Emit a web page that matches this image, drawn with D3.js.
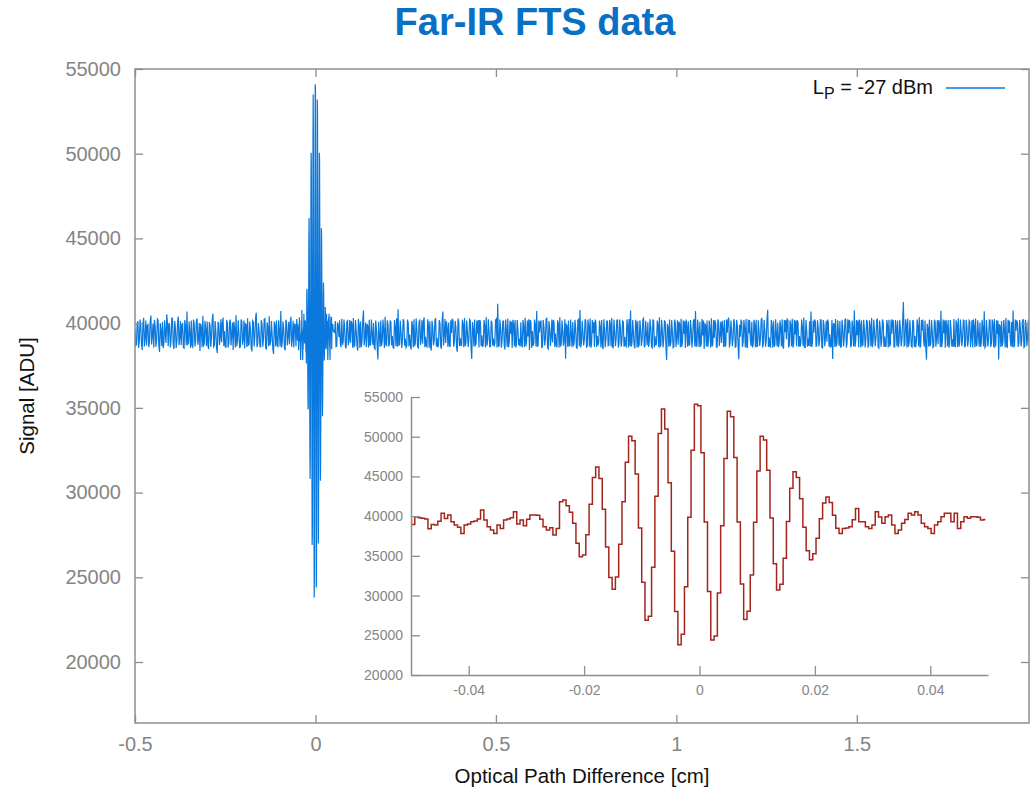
<!DOCTYPE html>
<html>
<head>
<meta charset="utf-8">
<script src="https://cdn.jsdelivr.net/npm/d3@7"></script>
<style>
  body { margin: 0; background: #fff; }
  text { font-family: "Liberation Sans", Arial, Helvetica, sans-serif; }
</style>
</head>
<body>
<svg id="chart" width="1035" height="787"></svg>
<script>
// ---- Data -----------------------------------------------------------------
// Central interferogram, sampled every ifgStep cm starting at ifgStart.
const ifgStart = -0.0502;
const ifgStep = 0.00057;
const ifgSignal = [
  39500, 38960, 39930, 39800, 39750, 39640, 38400, 38950, 38900, 39350,
  40350, 39700, 40150, 39300, 38900, 38600, 37830, 38900, 39000, 39300,
  39400, 39650, 40770, 39500, 38670, 38250, 37830, 38900, 38460, 39500,
  39650, 39800, 40560, 39000, 39510, 38800, 39600, 40140, 40140, 40100,
  39600, 38670, 38250, 38530, 37620, 38460, 41820, 42030, 41300, 40500,
  39100, 36600, 34900, 35100, 37650, 41490, 44870, 46200, 44730, 40880,
  36120, 32270, 30800, 32330, 36450, 41820, 46770, 50050, 49500, 45320,
  38500, 31680, 26900, 27400, 33550, 42510, 50390, 53500, 50960, 44200,
  35580, 28000, 23800, 25130, 31120, 39860, 48310, 54100, 53900, 47980,
  39250, 30520, 24400, 24900, 30330, 38800, 47270, 53200, 52510, 47380,
  39250, 31470, 27000, 28020, 32580, 39240, 45690, 50050, 49590, 45790,
  39770, 34010, 30700, 31440, 34710, 39340, 43500, 45600, 44860, 42180,
  38610, 35650, 34500, 35250, 37230, 39670, 41650, 42400, 41730, 40100,
  38470, 37800, 38460, 38500, 38670, 39550, 40950, 39300, 39300, 38670,
  38460, 38880, 40560, 39900, 39090, 39930, 40140, 38880, 37830, 38250,
  39090, 39590, 40350, 40140, 40560, 40140, 39090, 38670, 38460, 37830,
  38880, 39300, 39930, 40350, 40350, 39300, 40350, 38460, 39300, 39930,
  39720, 39930, 39930, 39850, 39510, 39590
];

// Background noise on either side of the burst. Each side is sampled every
// noiseStep cm on two interleaved grids (the second offset by half a step).
const noiseStep = 0.004;
const noiseLeftStart = -0.5;
const noiseLeft = [
  39650, 38720, 40110, 38950, 39880, 38410, 40320, 39100, 38680, 39920,
  38870, 40450, 39230, 38560, 39760, 38990, 40180, 38300, 39540, 40060,
  38790, 39410, 40520, 38640, 39850, 39020, 40240, 38480, 39690, 38910,
  40390, 39160, 38710, 40010, 38520, 39800, 40680, 38830, 39350, 40150,
  38600, 39970, 38940, 40270, 39060, 38350, 39730, 40430, 38760, 39580,
  40090, 38470, 39840, 39200, 40560, 38690, 39460, 38230, 40020, 39120,
  38880, 40330, 39530, 38580, 39990, 38820, 40210, 39280, 38420, 39700,
  40470, 38960, 39390, 38650, 40120, 39040, 38510, 39910, 40290, 38730,
  39620, 38330, 40060, 39170, 40620, 38800, 39480, 38570, 39950, 39080,
  40260, 38440, 39740, 40410, 38900, 39300, 38180, 39860, 40150, 38620,
  39510, 40720, 38850, 39640, 38400, 40030, 39210, 38740, 40380, 39050,
  38560, 39870, 40240
];
const noiseLeftMidStart = -0.498;
const noiseLeftMid = [
  38690, 39980, 38540, 40210, 38760, 39940, 38620, 40150, 39870, 38590,
  40080, 38740, 39980, 40190, 38610, 40250, 38700, 39990, 38650, 38520,
  40170, 38830, 39960, 40010, 38570, 40330, 38690, 40120, 38540, 40060,
  38700, 40130, 39890, 38560, 40180, 38690, 38760, 40100, 38540, 38680,
  40210, 38620, 40150, 38720, 40010, 39980, 38580, 38690, 40140, 38650,
  38700, 40060, 38590, 40200, 38610, 40120, 38530, 40040, 38710, 40230,
  39970, 38650, 38600, 40190, 38570, 40080, 38690, 40040, 40100, 38560,
  38640, 40170, 38530, 40210, 38720, 40150, 39960, 38600, 38700, 40090,
  38540, 40140, 38620, 40270, 38590, 40010, 38660, 40180, 38610, 40230,
  38570, 40050, 38640, 38680, 40130, 38450, 40090, 38620, 38690, 40170,
  38620, 38570, 40110, 38550, 40200, 38690, 40080, 39990, 38610, 40140,
  39980, 38640
];
const noiseRightStart = 0.053;
const noiseRight = [
  39420, 38610, 40050, 39180, 38790, 40260, 38950, 39700, 38520, 40140,
  39030, 38840, 39960, 40310, 38690, 39520, 38370, 39880, 40090, 38920,
  40740, 39150, 38580, 39810, 40200, 38760, 39350, 40010, 38470, 39640,
  37850, 39290, 40160, 38900, 39570, 40380, 38640, 39930, 38810, 40070,
  39240, 38530, 39780, 40290, 40820, 38720, 39460, 38980, 40120, 39090,
  38650, 40000, 39330, 38430, 39850, 40230, 38870, 39610, 38540, 40170,
  39060, 38790, 40340, 39200, 38610, 39900, 40110, 38380, 39720, 38960,
  40250, 39140, 38700, 39990, 38490, 40690, 39250, 38830, 39680, 40030,
  38590, 39410, 40180, 38920, 39760, 38310, 40070, 39120, 38680, 39950,
  40300, 38850, 39530, 39020, 40140, 37880, 39670, 40210, 38770, 39380,
  38560, 40090, 39290, 38730, 39840, 40360, 38950, 39470, 38620, 40020,
  39110, 38800, 40240, 41150, 38660, 39730, 39010, 40130, 38450, 39560,
  40270, 38890, 39370, 38540, 39960, 40190, 38740, 39620, 39080, 40050,
  38630, 39800, 40320, 38960, 39220, 38410, 40080, 39540, 38820, 39900,
  40710, 38700, 39450, 40160, 38590, 39750, 39050, 40280, 38480, 39680,
  39170, 38860, 40040, 39390, 38570, 39930, 40350, 38780, 39590, 38990,
  37900, 39840, 40150, 38680, 39310, 40060, 38910, 39700, 38520, 40220,
  40780, 38830, 39490, 39020, 40110, 38640, 39860, 40270, 38750, 39400,
  38600, 40030, 39260, 38880, 39790, 40190, 38460, 39650, 39100, 40120,
  38710, 39940, 40300, 38560, 39530, 39080, 40180, 38790, 39720, 38940,
  40070, 39190, 38620, 39880, 40240, 40750, 38850, 39420, 38510, 39990,
  40130, 38760, 39600, 39010, 40280, 38670, 39340, 40050, 38900, 39770,
  38550, 40170, 39230, 38810, 39910, 40340, 38690, 39560, 39060, 40100,
  37820, 39740, 40210, 38870, 39480, 38600, 40020, 39150, 38720, 39960,
  40260, 38930, 39380, 38540, 39820, 40110, 38780, 39660, 39040, 40230,
  40720, 38650, 39510, 40080, 38820, 39270, 38470, 39890, 40150, 38960,
  39610, 40290, 38740, 39120, 39980, 38580, 40060, 39320, 38830, 39710,
  40190, 38700, 39440, 40320, 38910, 39580, 39070, 40040, 38610, 39850,
  37870, 39200, 40120, 38860, 39690, 40250, 38530, 39400, 39010, 40080,
  38760, 39930, 40200, 38640, 39520, 39110, 40310, 38800, 39620, 38990,
  40790, 39160, 38590, 39840, 40140, 38720, 39360, 40020, 38880, 39750,
  40230, 38500, 39470, 39050, 40170, 38690, 39900, 40260, 38780, 39330,
  38630, 40040, 39240, 38850, 39800, 40330, 38570, 39590, 39090, 40110,
  40680, 38820, 39430, 40090, 38700, 39710, 39020, 40190, 38540, 39870,
  39180, 38910, 40050, 39350, 38660, 37890, 39960, 40240, 38790, 39500,
  40120, 38610, 39740, 39070, 40280, 38840, 39390, 40010, 38720, 39650,
  40760, 38950, 39280, 38580, 39920, 40170, 38730, 39610, 39030, 40080,
  38680, 39830, 40310, 38890, 39460, 39120, 40230, 38520, 39700, 38970,
  40060, 39210, 38640, 39890, 40200, 38780, 39370, 40130, 38600, 39760,
  40160, 38870, 39550, 39060, 41250, 38710, 39940, 40280, 38830, 39420,
  38590, 40100, 39250, 38920, 39810, 40340, 38660, 39570, 39000, 40150,
  37840, 39720, 40220, 38800, 39490, 38630, 40070, 39140, 38750, 39980,
  40730, 38900, 39400, 38550, 39860, 40190, 38770, 39640, 39050, 40240,
  38620, 39910, 40290, 38850, 39530, 39100, 40160, 38690, 39780, 38980,
  40090, 39170, 38570, 39850, 40270, 38740, 39310, 40040, 38880, 39690,
  40700, 38650, 39460, 39030, 40180, 38820, 39950, 40250, 38710, 39360,
  37860, 39790, 40130, 38930, 39600, 40310, 38580, 39420, 39080, 40060,
  40750, 38690, 39550, 40020, 38840, 39730, 39010, 40200, 38610, 39880,
  39140, 38790, 40030
];
const noiseRightMidStart = 0.055;
const noiseRightMid = [
  40120, 38640, 39900, 40170, 38580, 38720, 40210, 38610, 40080, 38700,
  40190, 40130, 38560, 38620, 40180, 38690, 40240, 38530, 38600, 40150,
  38680, 40030, 39950, 38570, 38660, 40220, 38710, 38520, 40160, 38630,
  40080, 38590, 38650, 40210, 38540, 38730, 40170, 38620, 40120, 38680,
  38570, 40190, 38640, 38610, 38700, 40150, 38530, 40240, 38670, 38560,
  40210, 38620, 38690, 40130, 38560, 38640, 40270, 38590, 40100, 38710,
  40180, 40060, 38580, 38670, 40230, 38550, 38600, 40140, 38690, 40200,
  38620, 38570, 40180, 38640, 40120, 38680, 40250, 40110, 38590, 38700,
  40170, 40220, 38610, 40130, 38560, 40270, 38640, 38690, 40200, 38580,
  38650, 40160, 38600, 40210, 38570, 40060, 38630, 38700, 40150, 40190,
  40190, 38640, 38590, 40180, 38560, 38660, 40230, 38610, 40140, 38680,
  38620, 40170, 38570, 38640, 40210, 38550, 40120, 38690, 40220, 38600,
  38580, 40150, 40100, 40200, 38630, 38560, 40180, 38700, 38610, 38690,
  40180, 38590, 38640, 40160, 40230, 40190, 38540, 38660, 40210, 38620,
  38600, 40150, 40070, 38570, 40190, 38680, 40240, 38540, 40120, 38650,
  40210, 40190, 38600, 38690, 40170, 38560, 38620, 40150, 38670, 40230,
  39920, 38610, 38660, 40220, 38580, 38640, 40190, 38550, 40170, 38630,
  38570, 40140, 38680, 40230, 38590, 40210, 38620, 38550, 40180, 40060,
  40210, 38600, 38690, 40150, 38570, 38650, 40230, 38580, 40120, 38670,
  40190, 38620, 38590, 40200, 38640, 40170, 38560, 40210, 38610, 40130,
  38600, 38690, 40220, 38570, 38640, 38620, 40180, 38680, 40200, 38560,
  38590, 40170, 38650, 40210, 38580, 40140, 38690, 38600, 40230, 38620,
  40180, 38560, 38680, 40150, 38590, 38620, 40200, 38570, 40130, 38650,
  39960, 38610, 38640, 40190, 38550, 40210, 38600, 40170, 40080, 38580,
  38590, 40170, 40110, 40210, 38610, 38660, 40190, 38560, 40140, 38620,
  38640, 40200, 38580, 38610, 40240, 40160, 39950, 38620, 38600, 40150,
  38570, 38630, 40190, 40170, 38580, 40220, 38650, 40080, 40140, 38600,
  38610, 40210, 40190, 38570, 40160, 38640, 40230, 38580, 40190, 38620,
  39910, 40170, 38600, 40180, 38560, 38620, 40210, 40180, 38640, 38570,
  40200, 38580, 38620, 40170, 38650, 40210, 38560, 40190, 38610, 40220,
  38590, 38640, 40180, 38560, 38610, 40230, 38620, 38580, 40160, 38640,
  38600, 40180, 40190, 40230, 38570, 40160, 38630, 38560, 40200, 40150,
  40170, 38590, 38620, 40210, 38640, 38580, 40190, 38610, 38650, 38620,
  38590, 40160, 40220, 38600, 40170, 38630, 40200, 38570, 40180, 38640,
  40140, 40210, 38610, 38570, 40190, 39950, 38600, 38620, 40170, 38650,
  38590, 40200, 38630, 40180, 38560, 40230, 40190, 38580, 40160, 38620,
  38610, 40190, 40150, 40210, 38570, 38640, 40200, 38560, 40180, 38610,
  40170, 38620, 38580, 40200, 38640, 40190, 38570, 40160, 38610, 40220,
  38590, 38630, 40180, 38570, 38620, 40210, 40170, 38600, 40190, 38640,
  38580, 40200, 38620, 40180, 38660, 40230, 38570, 38610, 40170, 38640,
  40190, 38600, 38580, 40210, 38630, 38560, 40180, 40220, 38610, 38590,
  39960, 38620, 38640, 40190, 38570, 40200, 38610, 40170, 40180, 38600,
  38580, 40210, 40160, 40200, 38630, 38560, 40190, 38620, 38600, 38640,
  40170, 38590, 38610, 40210, 38640, 40180, 38570, 40200, 38620, 40160,
  38600, 40190, 40220, 38580, 38630, 40170, 38610, 38590, 40200, 38640,
  38570, 40180, 38620, 40190, 38600, 40210, 38580, 38630, 40170, 40150,
  39940, 38600, 38640, 40190, 38570, 38610, 40200, 40160, 38620, 38590,
  38580, 40210, 40170, 38600, 40190, 38630, 40180, 38570, 40200, 38640,
  40170, 38610
];

// Axis settings
const mainXDomain = [-0.5, 1.977];
const mainYDomain = [16400, 55000];
const mainXTicks = [-0.5, 0, 0.5, 1, 1.5];
const mainYTicks = [20000, 25000, 30000, 35000, 40000, 45000, 50000, 55000];
const insetXDomain = [-0.05, 0.05];
const insetYDomain = [20000, 55000];
const insetXTicks = [-0.04, -0.02, 0, 0.02, 0.04];
const insetYTicks = [20000, 25000, 30000, 35000, 40000, 45000, 50000, 55000];

const titleText = "Far-IR FTS data";
const xLabelText = "Optical Path Difference [cm]";
const yLabelText = "Signal [ADU]";

// ---- Build point series ---------------------------------------------------
const ifgPoints = ifgSignal.map((v, i) => [ifgStart + i * ifgStep, v]);
const onGrid = (arr, start) => arr.map((v, k) => [start + k * noiseStep, v]);
const mainPoints = [
  ...onGrid(noiseLeft, noiseLeftStart),
  ...onGrid(noiseLeftMid, noiseLeftMidStart),
  ...ifgPoints,
  ...onGrid(noiseRight, noiseRightStart),
  ...onGrid(noiseRightMid, noiseRightMidStart)
].sort((a, b) => a[0] - b[0]);

// ---- Layout ---------------------------------------------------------------
const svg = d3.select("#chart");
const M = { left: 135, right: 1029, top: 69, bottom: 723 };
const I = { left: 411, right: 988, top: 397, bottom: 675 };

const axisGrey = "#8e8e8e";
const labelGrey = "#858585";
const blue = "#0a78dc";
const red = "#a3261d";

// Plain hyphen for negative numbers, as printed on the axes
const plainNum = d => String(d);

const x = d3.scaleLinear().domain(mainXDomain).range([M.left, M.right]);
const y = d3.scaleLinear().domain(mainYDomain).range([M.bottom, M.top]);

// Title
svg.append("text")
  .attr("x", 535).attr("y", 35)
  .attr("text-anchor", "middle")
  .attr("font-size", 38).attr("font-weight", "bold")
  .attr("fill", "#0a70c4")
  .text(titleText);

// Clip regions
const defs = svg.append("defs");
defs.append("clipPath").attr("id", "mainClip")
  .append("rect").attr("x", M.left).attr("y", M.top)
  .attr("width", M.right - M.left).attr("height", M.bottom - M.top);
defs.append("clipPath").attr("id", "insetClip")
  .append("rect").attr("x", I.left).attr("y", I.top - 5)
  .attr("width", I.right - I.left).attr("height", I.bottom - I.top + 5);

// Main trace
svg.append("path")
  .datum(mainPoints)
  .attr("clip-path", "url(#mainClip)")
  .attr("fill", "none")
  .attr("stroke", blue)
  .attr("stroke-width", 1.2)
  .attr("d", d3.line().x(d => x(d[0])).y(d => y(d[1])));

// Main frame with inward mirrored ticks
const tickLen = 8;
const gMain = svg.append("g");
gMain.append("g").attr("transform", `translate(0,${M.bottom})`)
  .call(d3.axisBottom(x).tickValues(mainXTicks).tickSizeInner(-tickLen).tickSizeOuter(0).tickPadding(14)
    .tickFormat(plainNum));
gMain.append("g").attr("transform", `translate(0,${M.top})`)
  .call(d3.axisTop(x).tickValues(mainXTicks).tickSizeInner(-tickLen).tickSizeOuter(0).tickFormat(""));
gMain.append("g").attr("transform", `translate(${M.left},0)`)
  .call(d3.axisLeft(y).tickValues(mainYTicks).tickSizeInner(-tickLen).tickSizeOuter(0).tickPadding(14)
    .tickFormat(plainNum));
gMain.append("g").attr("transform", `translate(${M.right},0)`)
  .call(d3.axisRight(y).tickValues(mainYTicks).tickSizeInner(-tickLen).tickSizeOuter(0).tickFormat(""));
gMain.selectAll(".domain").remove();
gMain.selectAll(".tick line").attr("stroke", axisGrey).attr("stroke-width", 1.3);
gMain.selectAll(".tick text").attr("fill", labelGrey).attr("font-size", 20)
  .attr("font-family", "'Liberation Sans', Arial, sans-serif");
gMain.append("rect")
  .attr("x", M.left).attr("y", M.top)
  .attr("width", M.right - M.left).attr("height", M.bottom - M.top)
  .attr("fill", "none").attr("stroke", axisGrey).attr("stroke-width", 1.5);

// Axis titles
svg.append("text")
  .attr("x", (M.left + M.right) / 2).attr("y", 783)
  .attr("text-anchor", "middle").attr("font-size", 20.5).attr("fill", "#111")
  .text(xLabelText);
svg.append("text")
  .attr("transform", `translate(34,${(M.top + M.bottom) / 2}) rotate(-90)`)
  .attr("text-anchor", "middle").attr("font-size", 20.5).attr("fill", "#111")
  .text(yLabelText);

// Legend
const legend = svg.append("g");
const legText = legend.append("text")
  .attr("x", 933).attr("y", 94)
  .attr("text-anchor", "end").attr("font-size", 20).attr("fill", "#111");
legText.append("tspan").text("L");
legText.append("tspan").attr("dy", 5).attr("font-size", 16).text("P");
legText.append("tspan").attr("dy", -5).text(" = -27 dBm");
legend.append("line")
  .attr("x1", 946).attr("x2", 1005).attr("y1", 88).attr("y2", 88)
  .attr("stroke", blue).attr("stroke-width", 1.3);

// ---- Inset: zoom on the white-light fringe ---------------------------------
const xi = d3.scaleLinear().domain(insetXDomain).range([I.left, I.right]);
const yi = d3.scaleLinear().domain(insetYDomain).range([I.bottom, I.top]);

svg.append("path")
  .datum(ifgPoints)
  .attr("clip-path", "url(#insetClip)")
  .attr("fill", "none")
  .attr("stroke", red)
  .attr("stroke-width", 1.5)
  .attr("d", d3.line().curve(d3.curveStep).x(d => xi(d[0])).y(d => yi(d[1])));

const gInset = svg.append("g");
gInset.append("g").attr("transform", `translate(0,${I.bottom})`)
  .call(d3.axisBottom(xi).tickValues(insetXTicks).tickSizeInner(-9).tickSizeOuter(0).tickPadding(10)
    .tickFormat(d => d === 0 ? "0" : d3.format(".2f")(d).replace("\u2212", "-")));
gInset.append("g").attr("transform", `translate(${I.left},0)`)
  .call(d3.axisLeft(yi).tickValues(insetYTicks).tickSizeInner(-9).tickSizeOuter(0).tickPadding(8)
    .tickFormat(plainNum));
gInset.selectAll(".domain").attr("stroke", axisGrey).attr("stroke-width", 1.5);
gInset.selectAll(".tick line").attr("stroke", axisGrey).attr("stroke-width", 1.3);
gInset.selectAll(".tick text").attr("fill", labelGrey).attr("font-size", 14)
  .attr("font-family", "'Liberation Sans', Arial, sans-serif");
</script>
</body>
</html>
